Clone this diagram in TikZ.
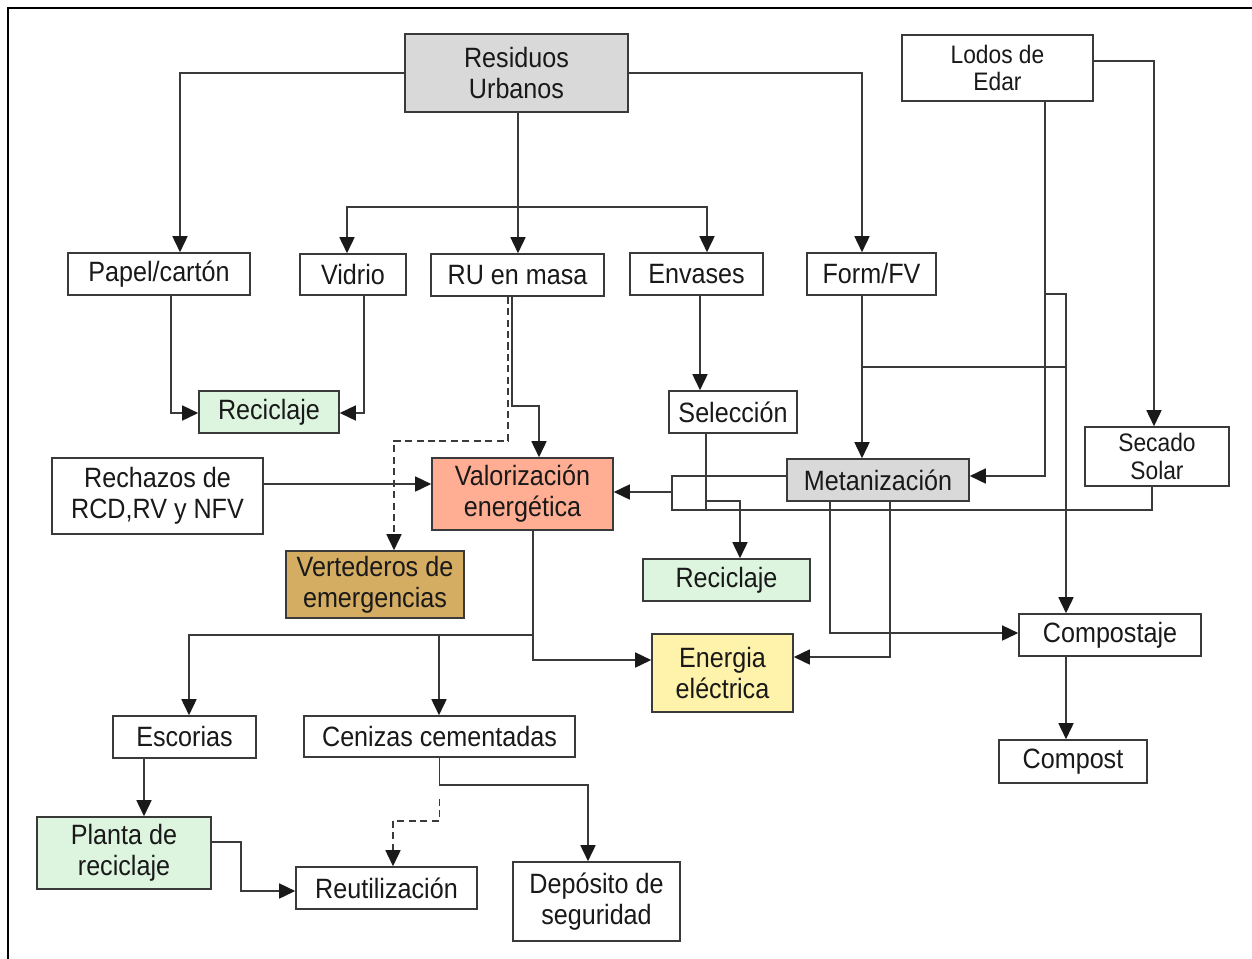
\documentclass[tikz,border=0pt]{standalone}
\usepackage{fontspec}
\setmainfont[FakeStretch=0.9]{Liberation Sans}
\usepackage{xcolor}
\usetikzlibrary{arrows.meta, positioning, calc}

\definecolor{boxgray}{HTML}{D9D9D9}
\definecolor{recgreen}{HTML}{DDF5DF}
\definecolor{valsalmon}{HTML}{FFAD93}
\definecolor{vertbrown}{HTML}{D4AC62}
\definecolor{enyellow}{HTML}{FFF2AA}
\definecolor{linegray}{HTML}{3A3A3A}

\begin{document}
\begin{tikzpicture}[
    x=0.02cm, y=-0.02cm,
    box/.style={rectangle, draw=linegray, line width=0.9pt, fill=white, align=center, inner sep=0pt, text=black!90, font=\fontsize{15.9}{17.6}\selectfont},
    wh/.style 2 args={minimum width=#1*0.02cm, minimum height=#2*0.02cm},
    small/.style={font=\fontsize{14.4}{15.6}\selectfont},
    arrow/.style={-{Triangle[length=0.32cm, width=0.3cm, color=black!90]}, draw=linegray, line width=0.9pt},
    link/.style={draw=linegray, line width=0.9pt},
    dashline/.style={dash pattern=on 4pt off 2.5pt}
]
\useasboundingbox (0,0) rectangle (1252,958);

% Frame
\draw[line width=1.6pt] (8,975) -- (8,8) -- (1270,8);

% Sources
\node[box, wh={223}{78}, fill=boxgray] (res) at (516.5,73) {Residuos\\Urbanos};
\node[box, wh={191}{66}, small] (lodos) at (997.5,68) {Lodos de\\Edar};

% Fractions
\node[box, wh={182}{42}] (papel) at (159,274) {Papel/cartón};
\node[box, wh={106}{41}] (vidrio) at (353,274.5) {Vidrio};
\node[box, wh={173}{42}] (rumasa) at (517.5,275) {RU en masa};
\node[box, wh={133}{42}] (envases) at (696.5,274) {Envases};
\node[box, wh={129}{42}] (form) at (871.5,274) {Form/FV};

% Treatment
\node[box, wh={140}{42}, fill=recgreen] (recicA) at (269,412) {Reciclaje};
\node[box, wh={128}{42}] (selec) at (733,412) {Selección};
\node[box, wh={144}{59}, small] (secado) at (1157,456.5) {Secado\\Solar};
\node[box, wh={182}{42}, fill=boxgray] (metan) at (878,480) {Metanización};
\node[box, wh={211}{76}] (rech) at (157.5,496) {Rechazos de\\RCD,RV y NFV};
\node[box, wh={181}{72}, fill=valsalmon] (valor) at (522.5,494) {Valorización\\energética};
\node[box, wh={178}{67}, fill=vertbrown] (vert) at (375,584.5) {Vertederos de\\emergencias};
\node[box, wh={167}{42}, fill=recgreen] (recicB) at (726.5,580) {Reciclaje};
\node[box, wh={182}{42}] (compostaje) at (1110,635) {Compostaje};
\node[box, wh={141}{78}, fill=enyellow] (energia) at (722.5,673) {Energia\\eléctrica};
\node[box, wh={148}{43}] (compost) at (1073,761.5) {Compost};

% Residues
\node[box, wh={143}{42}] (escorias) at (184.5,737) {Escorias};
\node[box, wh={271}{41}] (cenizas) at (439.5,736.5) {Cenizas cementadas};
\node[box, wh={174}{72}, fill=recgreen] (planta) at (124,853) {Planta de\\reciclaje};
\node[box, wh={181}{42}] (reutil) at (386.5,888) {Reutilización};
\node[box, wh={167}{79}] (deposito) at (596.5,901.5) {Depósito de\\seguridad};

% Residuos Urbanos
\coordinate (split) at ($(res.south)+(1.5,94)$);
\draw[arrow] (res.west) -| ($(papel.north)+(21,0)$);
\draw[arrow] ($(res.south)+(1.5,0)$) -- (split) -- ($(rumasa.north)+(0.5,0)$);
\draw[arrow] (split) -| ($(vidrio.north)+(-6,0)$);
\draw[arrow] (split) -| ($(envases.north)+(10.5,0)$);
\draw[arrow] (res.east) -| ($(form.north)+(-9.5,0)$);

% Lodos de Edar
\coordinate (lodtap) at ($(lodos.south)+(47.5,192)$);
\draw[arrow] ($(lodos.east)+(0,-7)$) -| ($(secado.north)+(-3,0)$);
\draw[arrow] ($(lodos.south)+(47.5,0)$) |- ($(metan.east)+(0,-4)$);
\draw[arrow] (lodtap) -| ($(compostaje.north)+(-44,0)$);

% Form/FV
\draw[arrow] ($(form.south)+(-9.5,0)$) -- ($(metan.north)+(-16,0)$);
\draw[link] ($(form.south)+(-9.5,71)$) -- ++(204,0);

% Papel, vidrio, RU en masa
\draw[arrow] ($(papel.south)+(12,0)$) |- ($(recicA.west)+(0,1)$);
\draw[arrow] ($(vidrio.south)+(11,0)$) |- ($(recicA.east)+(0,1)$);
\draw[arrow] ($(rumasa.south)+(-5.5,0)$) -- ++(0,109) -| ($(valor.north)+(16.5,0)$);
\draw[arrow, dashline] ($(rumasa.south)+(-9.5,0)$) -- ++(0,144) -| ($(vert.north)+(19,0)$);
\draw[arrow] ($(rech.east)+(0,-12)$) -- ($(valor.west)+(0,-10)$);

% Envases y Selección
\draw[arrow] ($(envases.south)+(3.5,0)$) -- ($(selec.north)+(-33,0)$);
\draw[link] ($(selec.south)+(-27,0)$) -- ++(0,77);
\draw[arrow] ($(selec.south)+(-27,67)$) -| ($(recicB.north)+(13.5,0)$);

% Retorno a valorización
\coordinate (busN) at (672,476);
\coordinate (busM) at (672,492);
\coordinate (busS) at (672,510);
\draw[link] ($(metan.west)+(0,-4)$) -- (busN) -- (busS) -| ($(secado.south)+(-5,0)$);
\draw[arrow] (busM) -- (valor.east |- busM);

% Metanización
\draw[arrow] ($(metan.south)+(-48,0)$) |- ($(compostaje.west)+(0,-2)$);
\draw[arrow] ($(metan.south)+(12,0)$) |- ($(energia.east)+(0,-16)$);

% Valorización energética
\coordinate (ashsplit) at ($(valor.south)+(10.5,104)$);
\draw[arrow] ($(valor.south)+(10.5,0)$) |- ($(energia.west)+(0,-13)$);
\draw[arrow] (ashsplit) -| ($(escorias.north)+(4.5,0)$);
\draw[arrow] ($(cenizas.north |- ashsplit)+(-0.5,0)$) -- ($(cenizas.north)+(-0.5,0)$);

% Compostaje
\draw[arrow] ($(compostaje.south)+(-44,0)$) -- ($(compost.north)+(-7,0)$);

% Escorias y cenizas
\draw[arrow] ($(escorias.south)+(-40.5,0)$) -- ($(planta.north)+(20,0)$);
\draw[arrow] ($(planta.east)+(0,-11)$) -- ++(29,0) |- ($(reutil.west)+(0,3)$);
\draw[arrow] (cenizas.south) -- ++(0,27) -| ($(deposito.north)+(-8.5,0)$);
\draw[arrow, dashline] ($(cenizas.south)+(0,41)$) -- ++(0,22) -| ($(reutil.north)+(6.5,0)$);

\end{tikzpicture}
\end{document}
